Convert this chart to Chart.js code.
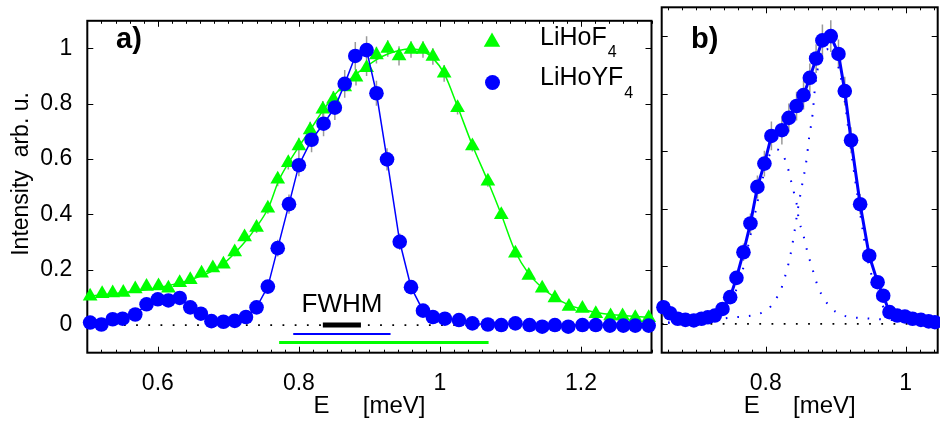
<!DOCTYPE html>
<html><head><meta charset="utf-8">
<script src="https://cdn.jsdelivr.net/npm/chart.js@4.4.0/dist/chart.umd.min.js"></script>
<style>
html,body{margin:0;padding:0;background:#fff;overflow:hidden;width:940px;height:425px;position:relative;}
#ca{position:absolute;left:0;top:0;}
#cb{position:absolute;left:640px;top:0;}
</style></head><body>
<canvas id="ca" width="660" height="425"></canvas>
<canvas id="cb" width="305" height="425"></canvas>
<script>
// ---------- Panel a data ----------
const aF_E = [0.504,0.521,0.536,0.551,0.568,0.584,0.601,0.615,0.631,0.646,0.662,0.678,0.693,0.709,0.723,0.740,0.756,0.770,0.785,0.800,0.816,0.834,0.849,0.865,0.881,0.896,0.910,0.926,0.942,0.959,0.976,0.990,1.006,1.025,1.046,1.068,1.087,1.107,1.126,1.145,1.163,1.183,1.202,1.221,1.242,1.259,1.277,1.296];
const aF_I = [0.104,0.113,0.116,0.118,0.130,0.139,0.141,0.133,0.153,0.164,0.187,0.206,0.220,0.264,0.318,0.353,0.422,0.527,0.587,0.647,0.705,0.780,0.816,0.861,0.896,0.930,0.976,1.000,0.973,0.996,0.996,0.971,0.910,0.786,0.647,0.520,0.399,0.260,0.179,0.133,0.098,0.067,0.060,0.041,0.033,0.033,0.026,0.026];
const aF_err = [0.01,0.01,0.01,0.01,0.01,0.01,0.01,0.01,0.01,0.01,0.01,0.01,0.01,0.015,0.015,0.02,0.02,0.025,0.025,0.03,0.03,0.03,0.03,0.03,0.03,0.03,0.03,0.03,0.035,0.03,0.03,0.03,0.03,0.025,0.02,0.02,0.015,0.015,0.01,0.01,0.01,0.01,0.01,0.01,0.01,0.01,0.01,0.01];
const aFfit_E = [0.50,0.55,0.60,0.65,0.69,0.72,0.74,0.757,0.771,0.785,0.80,0.816,0.834,0.85,0.865,0.88,0.896,0.91,0.926,0.942,0.959,0.976,0.99,1.006,1.025,1.046,1.068,1.087,1.107,1.126,1.145,1.163,1.183,1.202,1.221,1.25,1.30];
const aFfit_I = [0.104,0.117,0.135,0.167,0.215,0.29,0.355,0.425,0.52,0.585,0.645,0.705,0.775,0.83,0.87,0.905,0.935,0.96,0.98,0.993,0.998,0.99,0.965,0.91,0.79,0.65,0.52,0.40,0.265,0.185,0.135,0.10,0.072,0.057,0.045,0.036,0.028];
const aY_E = [0.504,0.520,0.536,0.550,0.568,0.584,0.600,0.615,0.631,0.646,0.661,0.676,0.693,0.709,0.725,0.740,0.756,0.770,0.786,0.800,0.818,0.835,0.851,0.865,0.880,0.896,0.910,0.925,0.943,0.959,0.976,0.990,1.007,1.027,1.046,1.068,1.087,1.107,1.127,1.145,1.163,1.182,1.202,1.221,1.241,1.260,1.277,1.296];
const aY_I = [0.009,0.002,0.021,0.023,0.038,0.075,0.093,0.089,0.098,0.064,0.041,0.014,0.012,0.015,0.029,0.064,0.139,0.278,0.437,0.578,0.670,0.728,0.786,0.872,0.973,0.994,0.838,0.599,0.301,0.137,0.052,0.029,0.023,0.018,0.006,0.002,0.000,0.006,0.000,-0.006,0.000,-0.006,0.000,0.000,-0.002,-0.002,-0.002,-0.002];
const aY_err = [0.01,0.01,0.01,0.01,0.01,0.01,0.01,0.01,0.01,0.01,0.01,0.01,0.01,0.01,0.01,0.015,0.02,0.03,0.035,0.04,0.045,0.045,0.045,0.05,0.05,0.05,0.045,0.04,0.03,0.02,0.01,0.01,0.01,0.01,0.01,0.01,0.01,0.01,0.01,0.01,0.01,0.01,0.01,0.01,0.01,0.01,0.01,0.01];
// FWHM resolution bars: [E start, E end, intensity level]
const fwhmRes   = [0.834, 0.888, 0.0];
const fwhmLiHoYF = [0.792, 0.930, -0.032];
const fwhmLiHoF  = [0.772, 1.069, -0.063];

// ---------- Panel b data ----------
const b_E = [0.6535,0.663,0.674,0.685,0.697,0.708,0.717,0.727,0.738,0.749,0.758,0.768,0.778,0.788,0.798,0.808,0.823,0.833,0.844,0.854,0.863,0.872,0.881,0.893,0.904,0.913,0.922,0.935,0.948,0.960,0.968,0.977,0.988,0.999,1.010,1.022,1.033,1.042];
const b_I = [0.058,0.037,0.018,0.014,0.012,0.018,0.023,0.029,0.052,0.093,0.160,0.249,0.349,0.476,0.557,0.653,0.673,0.716,0.757,0.795,0.855,0.922,0.985,1.000,0.938,0.809,0.638,0.416,0.237,0.145,0.098,0.041,0.029,0.026,0.018,0.014,0.009,0.006];
const b_err = [0.01,0.01,0.01,0.01,0.01,0.01,0.01,0.01,0.01,0.015,0.02,0.03,0.035,0.04,0.045,0.05,0.05,0.05,0.05,0.05,0.05,0.05,0.055,0.055,0.05,0.05,0.045,0.035,0.025,0.02,0.015,0.01,0.01,0.01,0.01,0.01,0.01,0.01];
const c1_E = [0.66,0.70,0.73,0.75,0.765,0.78,0.795,0.805,0.815,0.828,0.833,0.837,0.841,0.845,0.847,0.852,0.856,0.860,0.865,0.870,0.875,0.883,0.893,0.907,0.923,0.940,0.97,1.00,1.045];
const c1_I = [0.004,0.01,0.03,0.08,0.17,0.33,0.50,0.585,0.607,0.569,0.529,0.488,0.449,0.405,0.364,0.324,0.287,0.245,0.206,0.164,0.127,0.089,0.056,0.033,0.023,0.020,0.015,0.011,0.008];
const c2_E = [0.66,0.70,0.73,0.754,0.771,0.787,0.803,0.813,0.822,0.827,0.835,0.841,0.846,0.852,0.858,0.862,0.867,0.870,0.875,0.882,0.890,0.902,0.912,0.921,0.934,0.947,0.959,0.970,0.985,1.00,1.045];
const c2_I = [0.005,0.009,0.016,0.023,0.026,0.033,0.051,0.081,0.122,0.160,0.237,0.320,0.401,0.483,0.566,0.647,0.730,0.812,0.896,0.94,0.955,0.91,0.79,0.62,0.40,0.21,0.12,0.05,0.025,0.015,0.008];

// ---------- Axes ----------
const xTicksA = [0.6, 0.8, 1.0, 1.2];
const xLabelsA = ['0.6', '0.8', '1', '1.2'];
const xTicksB = [0.8, 1.0];
const xLabelsB = ['0.8', '1'];
const yTicks = [0, 0.2, 0.4, 0.6, 0.8, 1.0];
const yLabels = ['0', '0.2', '0.4', '0.6', '0.8', '1'];

const BLUE = '#0000ff', GREEN = '#00ff00', GRAY = '#9a9a9a';
const FONT = '"Liberation Sans", Arial, Helvetica, sans-serif';
Chart.defaults.font.family = FONT;
Chart.defaults.font.size = 23;
Chart.defaults.color = '#000';

const xy = (xs, ys) => xs.map((v, i) => ({x: v, y: ys[i]}));

const frameTicks = {
  id: 'frameTicks',
  beforeDatasetsDraw(chart, args, o) {
    const {ctx, chartArea: a, scales: {x, y}} = chart;
    ctx.save();
    ctx.strokeStyle = '#000';
    ctx.lineWidth = 1;
    ctx.beginPath();
    const i0 = Math.ceil(x.min * 50 - 1e-6), i1 = Math.floor(x.max * 50 + 1e-6);
    for (let i = i0; i <= i1; i++) {
      const v = i / 50;
      const p = Math.round(x.getPixelForValue(v)) + 0.5;
      const major = o.xMajor.some(m => Math.abs(m - v) < 1e-6);
      const L = major ? 6 : 3;
      ctx.moveTo(p, a.bottom); ctx.lineTo(p, a.bottom - L);
      ctx.moveTo(p, a.top); ctx.lineTo(p, a.top + L);
    }
    for (const v of o.yMajor) {
      const p = Math.round(y.getPixelForValue(v)) + 0.5;
      ctx.moveTo(a.left, p); ctx.lineTo(a.left + 6, p);
      ctx.moveTo(a.right, p); ctx.lineTo(a.right - 6, p);
    }
    ctx.stroke();
    ctx.lineWidth = 2;
    ctx.strokeRect(a.left, a.top, a.right - a.left, a.bottom - a.top);
    // error bars
    ctx.strokeStyle = GRAY;
    ctx.lineWidth = 1.5;
    ctx.beginPath();
    chart.data.datasets.forEach(ds => {
      if (!ds.errs) return;
      ds.data.forEach((pt, i) => {
        const e = ds.errs[i];
        const px = x.getPixelForValue(pt.x);
        ctx.moveTo(px, y.getPixelForValue(pt.y + e));
        ctx.lineTo(px, y.getPixelForValue(pt.y - e));
      });
    });
    ctx.stroke();
    ctx.restore();
  }
};

const annotA = {
  id: 'annotA',
  afterDraw(chart) {
    const {ctx} = chart;
    ctx.save();
    ctx.fillStyle = '#000';
    ctx.textBaseline = 'alphabetic';
    ctx.font = 'bold 29px ' + FONT;
    ctx.textAlign = 'left';
    ctx.fillText('a)', 116, 48);
    ctx.font = '26px ' + FONT;
    ctx.textAlign = 'center';
    ctx.fillText('FWHM', 342, 312);
    // legend
    ctx.fillStyle = GREEN;
    const tx = 492, ty = 42, r = 9.5;
    ctx.beginPath();
    ctx.moveTo(tx, ty - r);
    ctx.lineTo(tx + r * Math.sin(2 * Math.PI / 3), ty + r / 2);
    ctx.lineTo(tx - r * Math.sin(2 * Math.PI / 3), ty + r / 2);
    ctx.closePath(); ctx.fill();
    ctx.fillStyle = BLUE;
    ctx.beginPath(); ctx.arc(492.5, 82.5, 7.5, 0, Math.PI * 2); ctx.fill();
    ctx.fillStyle = '#000';
    ctx.textAlign = 'left';
    ctx.font = '25px ' + FONT;
    ctx.fillText('LiHoF', 540, 45);
    let w = ctx.measureText('LiHoF').width;
    ctx.font = '16px ' + FONT;
    ctx.fillText('4', 540 + w + 1, 57);
    ctx.font = '25px ' + FONT;
    ctx.fillText('LiHoYF', 540, 85);
    w = ctx.measureText('LiHoYF').width;
    ctx.font = '16px ' + FONT;
    ctx.fillText('4', 540 + w + 1, 98);
    ctx.restore();
  }
};

const annotB = {
  id: 'annotB',
  afterDraw(chart) {
    const {ctx} = chart;
    ctx.save();
    ctx.fillStyle = '#000';
    ctx.font = 'bold 29px ' + FONT;
    ctx.textAlign = 'left';
    ctx.fillText('b)', 691 - 640, 48);
    ctx.restore();
  }
};

const lineDs = (data, color, width, order, extra) => Object.assign({
  data, showLine: true, borderColor: color, borderWidth: width, pointRadius: 0,
  pointHoverRadius: 0, fill: false, order, clip: false
}, extra || {});

const barDs = (arr, color, width, order) => lineDs([{x: arr[0], y: arr[2]}, {x: arr[1], y: arr[2]}], color, width, order, {borderCapStyle: 'butt'});

new Chart(document.getElementById('ca'), {
  type: 'scatter',
  data: {datasets: [
    lineDs(xy(aY_E, aY_I), BLUE, 1.5, 1, {pointRadius: 7.3, pointStyle: 'circle', pointBackgroundColor: BLUE, pointBorderColor: BLUE, pointBorderWidth: 0, errs: aY_err}),
    {data: xy(aF_E, aF_I), showLine: false, pointRadius: 8.5, pointStyle: 'triangle', pointBackgroundColor: GREEN, pointBorderColor: GREEN, pointBorderWidth: 0, order: 2, clip: false, errs: aF_err},
    lineDs(xy(aFfit_E, aFfit_I), GREEN, 1.5, 3, {cubicInterpolationMode: 'monotone'}),
    barDs(fwhmRes, '#000', 5, 4),
    barDs(fwhmLiHoYF, BLUE, 2, 5),
    barDs(fwhmLiHoF, GREEN, 3, 6),
    lineDs([{x: 0.5, y: 0}, {x: 1.3, y: 0}], '#000', 1.8, 7, {borderDash: [1.8, 10.4], clip: true})
  ]},
  options: {
    responsive: false, animation: false, events: [],
    layout: {padding: {top: 4, right: 6.7, bottom: 0, left: 0}},
    plugins: {legend: {display: false}, tooltip: {enabled: false},
      frameTicks: {xMajor: xTicksA, yMajor: yTicks}},
    scales: {
      x: {type: 'linear', min: 0.5, max: 1.3,
        grid: {display: false}, border: {display: false},
        afterBuildTicks: s => { s.ticks = xTicksA.map(v => ({value: v})); },
        afterFit: s => { s.height = 72.3; },
        ticks: {autoSkip: false, maxRotation: 0, padding: 9, font: {size: 23},
          callback: v => xLabelsA[xTicksA.indexOf(v)]},
        title: {display: true, text: 'E     [meV]', font: {size: 24}, padding: {top: 0, bottom: 4.5}}
      },
      y: {type: 'linear', min: -0.1, max: 1.1,
        grid: {display: false}, border: {display: false},
        afterBuildTicks: s => { s.ticks = yTicks.map(v => ({value: v})); },
        afterFit: s => { s.width = 87.3; },
        ticks: {autoSkip: false, padding: 7, font: {size: 23},
          callback: v => yLabels[yTicks.indexOf(v)]},
        title: {display: true, text: '    Intensity  arb. u.', font: {size: 23}, padding: {top: 8, bottom: 0}}
      }
    }
  },
  plugins: [frameTicks, annotA]
});

new Chart(document.getElementById('cb'), {
  type: 'scatter',
  data: {datasets: [
    lineDs(xy(b_E, b_I), BLUE, 3, 1, {pointRadius: 7.3, pointStyle: 'circle', pointBackgroundColor: BLUE, pointBorderColor: BLUE, pointBorderWidth: 0, errs: b_err}),
    lineDs(xy(c1_E, c1_I), BLUE, 2, 2, {borderDash: [1.6, 10], cubicInterpolationMode: 'monotone', clip: true}),
    lineDs(xy(c2_E, c2_I), BLUE, 2, 3, {borderDash: [1.6, 10], cubicInterpolationMode: 'monotone', clip: true}),
    lineDs([{x: 0.651, y: 0}, {x: 1.046, y: 0}], '#000', 1.8, 4, {borderDash: [1.8, 10.4], clip: true})
  ]},
  options: {
    responsive: false, animation: false, events: [],
    layout: {padding: {top: 4, right: 3, bottom: 0, left: 21.7}},
    plugins: {legend: {display: false}, tooltip: {enabled: false},
      frameTicks: {xMajor: xTicksB, yMajor: yTicks}},
    scales: {
      x: {type: 'linear', min: 0.651, max: 1.046,
        grid: {display: false}, border: {display: false},
        afterBuildTicks: s => { s.ticks = xTicksB.map(v => ({value: v})); },
        afterFit: s => { s.height = 72.3; },
        ticks: {autoSkip: false, maxRotation: 0, padding: 9, font: {size: 23},
          callback: v => xLabelsB[xTicksB.indexOf(v)]},
        title: {display: true, text: 'E     [meV]', font: {size: 24}, padding: {top: 0, bottom: 4.5}}
      },
      y: {type: 'linear', min: -0.1, max: 1.1, display: false}
    }
  },
  plugins: [frameTicks, annotB]
});
</script>
</body></html>
